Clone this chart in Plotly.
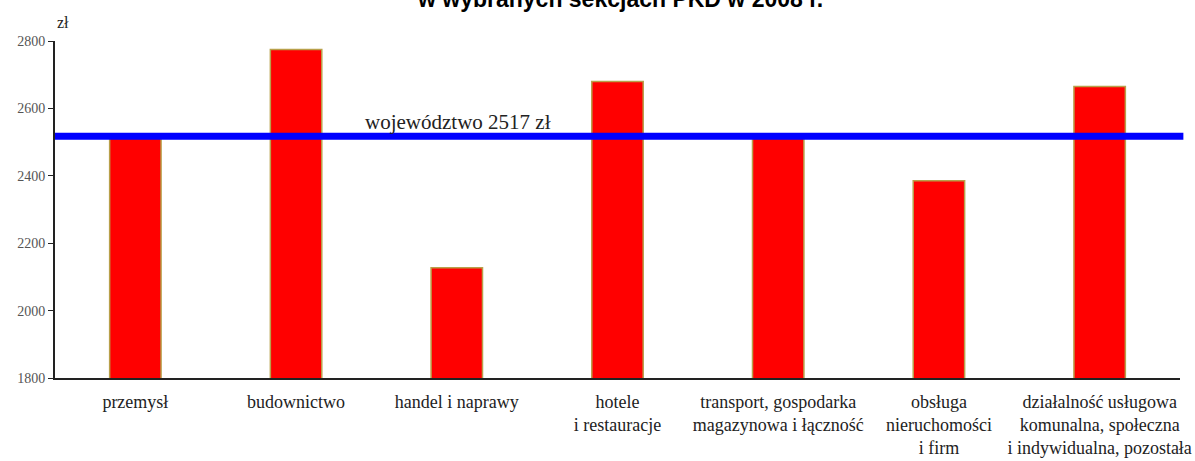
import plotly.graph_objects as go

sekcje = [
    "przemysł",
    "budownictwo",
    "handel i naprawy",
    "hotele<br>i restauracje",
    "transport, gospodarka<br>magazynowa i łączność",
    "obsługa<br>nieruchomości<br>i firm",
    "działalność usługowa<br>komunalna, społeczna<br>i indywidualna, pozostała",
]
wynagrodzenie = [2515, 2775, 2127, 2680, 2515, 2385, 2665]
wojewodztwo = 2517
y_ticks = [1800, 2000, 2200, 2400, 2600, 2800]

serif = "Liberation Serif, Times New Roman, serif"

fig = go.Figure()
fig.add_trace(go.Bar(
    x=sekcje, y=wynagrodzenie,
    base=0,
    marker=dict(color="#ff0000", line=dict(color="#b8a04a", width=1.5)),
    showlegend=False,
))

# linia średniej wojewódzkiej
fig.add_shape(type="line", xref="paper", yref="y",
              x0=0, x1=1.003, y0=wojewodztwo, y1=wojewodztwo,
              line=dict(color="#0000ff", width=7), layer="above")
fig.add_annotation(x=0.274, xref="paper", y=wojewodztwo, yref="y",
                   text=f"województwo {wojewodztwo} zł", showarrow=False,
                   xanchor="left", yanchor="middle", yshift=14,
                   font=dict(family=serif, size=21, color="#222"))
fig.add_annotation(x=0, xref="paper", y=1, yref="paper",
                   text="zł", showarrow=False, xanchor="left", yanchor="bottom",
                   yshift=8, font=dict(family=serif, size=16, color="#222"))
# tytuł ucięty u góry, jak na oryginale
fig.add_annotation(x=0.502, xref="paper", y=1, yref="paper",
                   text="<b>w wybranych sekcjach PKD w 2008 r.</b>", showarrow=False,
                   yanchor="middle", yshift=42,
                   font=dict(family="Liberation Sans, Arial", size=23, color="#000"))

fig.update_layout(
    width=1195, height=461,
    margin=dict(l=55, r=15, t=41, b=83),
    plot_bgcolor="white", paper_bgcolor="white",
    bargap=0.68,
    xaxis=dict(showgrid=False, showline=True, linecolor="#222", linewidth=2,
               ticks="", ticklabelstandoff=6,
               tickfont=dict(family=serif, size=18, color="#222"),
               tickangle=0, automargin=False),
    yaxis=dict(range=[1800, 2800], tickvals=y_ticks, showgrid=False,
               showline=True, linecolor="#222", linewidth=2, zeroline=False,
               ticks="outside", ticklen=5, tickcolor="#222",
               tickfont=dict(family=serif, size=14, color="#555")),
)

fig.write_html("out.html", config={"displayModeBar": False},
               post_script="document.body.style.margin='0';")
